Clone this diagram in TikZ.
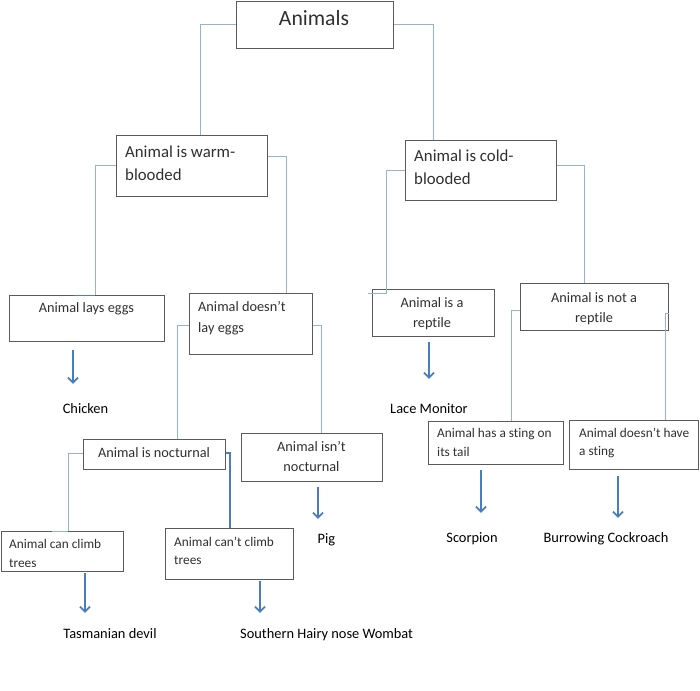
\documentclass[tikz,border=0pt]{standalone}
\usepackage{fontspec}
\setmainfont{Carlito}[Ligatures=NoCommon]
\usetikzlibrary{arrows.meta}
\definecolor{connc}{HTML}{95B3D7}
\definecolor{arrc}{HTML}{4A7EBB}
\definecolor{boxc}{HTML}{5A5A5A}
\definecolor{txtc}{HTML}{303030}
\begin{document}
\begin{tikzpicture}[x=1pt,y=-1pt,
  box/.style={draw=boxc, line width=1.2pt, inner sep=0, anchor=north west, fill=none},
  conn/.style={draw=connc, line width=0.9pt},
  connd/.style={draw=arrc, line width=1.4pt},
  arr/.style={draw=arrc, line width=1.8pt, -{Straight Barb[length=5pt,width=10pt]}},
  bt/.style={inner sep=0, text=txtc, font=\fontsize{14.3}{20}\selectfont},
  st/.style={inner sep=0, text=txtc, font=\fontsize{13.3}{19}\selectfont},
  wt/.style={inner sep=0, text=txtc, font=\fontsize{16.8}{23}\selectfont},
  leaf/.style={inner sep=0, text=black, anchor=base, text height=10pt, text depth=3pt, font=\fontsize{14.4}{17}\selectfont}]
\useasboundingbox (0,0) rectangle (700,690);
\fill[white] (0,0) rectangle (700,690);

% boxes
\node[box, minimum width=157pt, minimum height=47pt] (animals) at (236,0.6) {};
\node[box, minimum width=151pt, minimum height=61pt] (warm) at (116,135) {};
\node[box, minimum width=151pt, minimum height=60pt] (cold) at (405,140) {};
\node[box, minimum width=155pt, minimum height=46pt] (lays) at (9,295) {};
\node[box, minimum width=123pt, minimum height=61pt] (dl) at (189,293) {};
\node[box, minimum width=122pt, minimum height=47pt] (reptile) at (372,289) {};
\node[box, minimum width=148pt, minimum height=47pt] (notrep) at (520,283) {};
\node[box, minimum width=142pt, minimum height=30pt] (noct) at (83,439) {};
\node[box, minimum width=141pt, minimum height=48pt] (isnt) at (241,433) {};
\node[box, minimum width=122.4pt, minimum height=40pt] (climb) at (0.6,531) {};
\node[box, minimum width=128pt, minimum height=51pt] (cant) at (165,528) {};
\node[box, minimum width=135pt, minimum height=43pt] (sting) at (428,421) {};
\node[box, minimum width=129pt, minimum height=49pt] (nosting) at (569,420) {};

% box texts (multi-line nodes are anchored on their last line)
\node[inner sep=0, text=txtc, font=\fontsize{21.7}{26}\selectfont, anchor=base] (animalsT) at (314,26) {Animals};
\node[wt, align=left, anchor=base west] (warmT) at (125,180) {Animal is warm-\\blooded};
\node[wt, align=left, anchor=base west] (coldT) at (414,184) {Animal is cold-\\blooded};
\node[bt, anchor=base] (laysT) at (86.5,312) {Animal lays eggs};
\node[bt, align=left, anchor=base west, font=\fontsize{14.3}{20.5}\selectfont] (dlT) at (198,332) {Animal doesn’t\\lay eggs};
\node[bt, align=center, anchor=base] (reptileT) at (432,327) {Animal is a\\reptile};
\node[bt, align=center, anchor=base] (notrepT) at (594,322) {Animal is not a\\reptile};
\node[bt, anchor=base] (noctT) at (154,457) {Animal is nocturnal};
\node[bt, align=center, anchor=base] (isntT) at (311.5,471) {Animal isn’t\\nocturnal};
\node[st, align=left, anchor=base west] (stingT) at (437,456) {Animal has a sting on\\its tail};
\node[st, align=left, anchor=base west, font=\fontsize{13.3}{18.5}\selectfont] (nostingT) at (579,455.5) {Animal doesn’t have\\a sting};
\begin{scope}
\clip (0,531) rectangle (123,566.5);
\node[st, align=left, anchor=base west] (climbT) at (9,567) {Animal can climb\\trees};
\end{scope}
\node[st, align=left, anchor=base west, font=\fontsize{13.3}{18}\selectfont] (cantT) at (174,564) {Animal can’t climb\\trees};

% leaves
\node[leaf] (chicken) at (85.5,413) {Chicken};
\node[leaf] (tasm) at (110,638) {Tasmanian devil};
\node[leaf, anchor=base west] (wombat) at (240,638) {Southern Hairy nose Wombat};
\node[leaf] (pig) at (326.5,543) {Pig};
\node[leaf] (lace) at (429,413) {Lace Monitor};
\node[leaf] (scorp) at (472,542) {Scorpion};
\node[leaf] (cock) at (606,542) {Burrowing Cockroach};

% connectors
\draw[conn] (animals.west) -| (warm.north -| 200,0);
\draw[conn] (animals.east) -| (cold.north -| 433,0);
\draw[conn] (warm.west |- 0,165) -| (lays.north -| 95,0);
\draw[conn] (warm.east |- 0,156) -| (dl.north -| 286,0);
\draw[conn] (cold.west |- 0,170) -| (reptile.north -| 386,0);
\draw[conn] (reptile.north -| 386,0) |- (368,293);
\draw[conn] (cold.east |- 0,165) -| (notrep.north -| 584,0);
\draw[conn] (dl.west |- 0,325) -| (noct.north -| 177,0);
\draw[conn] (dl.east |- 0,325) -| (isnt.north -| 321,0);
\draw[conn] (noct.west |- 0,453) -| (climb.north -| 68,0);
\draw[conn] (climb.north -| 52,0) -- (climb.north -| 68,0);
\draw[connd] (noct.east |- 0,453) -| (cant.north -| 230,0);
\draw[conn] (notrep.west |- 0,310) -| (sting.north -| 511,0);
\draw[conn] (notrep.east |- 0,313) -| (nosting.north -| 665,0);
\draw[arrc, line width=1pt] (lays.north -| 74,0) -- (lays.north -| 95,0);

% arrows
\draw[arr, shorten <=8pt, shorten >=19pt] (lays.south -| 73,0) -- (chicken.north -| 73,0);
\draw[arr, shorten <=1pt, shorten >=15pt] (climb.south -| 85,0) -- (tasm.north -| 85,0);
\draw[arr, shorten <=1pt, shorten >=15pt] (cant.south -| 260,0) -- (wombat.north -| 260,0);
\draw[arr, shorten <=5pt, shorten >=14pt] (isnt.south -| 318,0) -- (pig.north -| 318,0);
\draw[arr, shorten <=5pt, shorten >=24pt] (reptile.south -| 429,0) -- (lace.north -| 429,0);
\draw[arr, shorten <=5pt, shorten >=19pt] (sting.south -| 481,0) -- (scorp.north -| 481,0);
\draw[arr, shorten <=6pt, shorten >=14pt] (nosting.south -| 618,0) -- (cock.north -| 618,0);
\end{tikzpicture}
\end{document}
